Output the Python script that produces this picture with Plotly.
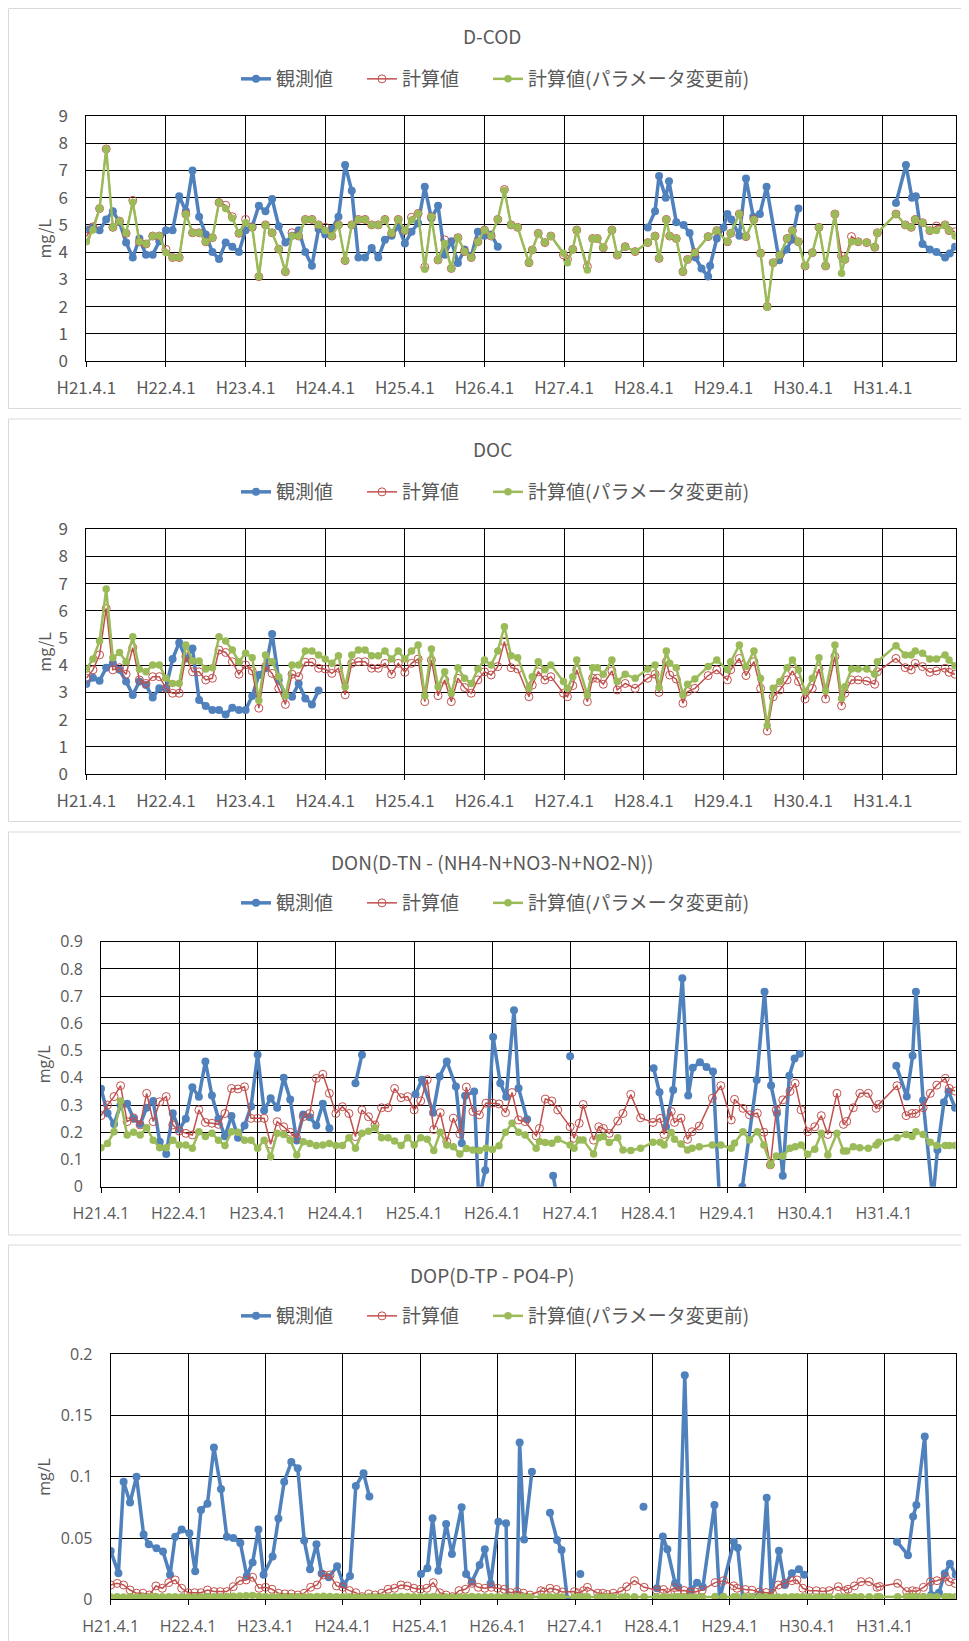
import plotly.graph_objects as go

# ---------------- data ----------------
tick_months = [0, 12, 24, 36, 48, 60, 72, 84, 96, 108, 120]
tick_labels = ["H21.4.1", "H22.4.1", "H23.4.1", "H24.4.1", "H25.4.1", "H26.4.1",
               "H27.4.1", "H28.4.1", "H29.4.1", "H30.4.1", "H31.4.1"]
series_names = ["観測値", "計算値", "計算値(パラメータ変更前)"]
panel_titles = ["D-COD", "DOC", "DON(D-TN - (NH4-N+NO3-N+NO2-N))", "DOP(D-TP - PO4-P)"]

# months elapsed since H21.4.1 of the model output dates
model_months = [0, 1, 2, 3, 4, 5, 6, 7, 8, 9, 10, 11, 12, 13, 14, 15, 16, 17, 18, 19,
                20, 21, 22, 23, 24, 25, 26, 27, 28, 29, 30, 31, 32, 33, 34, 35, 36, 37, 38, 39,
                40, 41, 42, 43, 44, 45, 46, 47, 48, 49, 50, 51, 52, 53, 54, 55, 56, 57, 58, 59,
                60, 61, 62, 63, 64, 65,
                66.7, 67.2, 68.1, 69.1, 70, 71.9, 72.5, 73.3, 73.9, 75.5,
                76.3, 77, 77.9, 79.2, 80, 81.2, 82.7, 84.6, 85.7, 86.3,
                87.4, 87.9, 88.9, 89.9, 90.6, 91.7, 93.7, 95, 96.6, 97.1,
                98.4, 99.4, 100.6, 101.6, 102.6, 103.5, 104.5, 105.6, 106.4, 107.3,
                108.3, 109.4, 110.4, 111.4, 112.8, 113.8, 114.3, 115.3, 116.3, 117.6,
                118.8, 119.2, 122, 123.4, 124.3, 124.9, 126, 127.1, 128.1, 129.4,
                130, 130.9]

# ---- D-COD ----
cod_obs_months = [0, 1, 2, 3, 4, 5, 6, 7, 8, 9, 10, 11, 12, 13, 14, 15, 16, 17, 18, 19,
                  20, 21, 22, 23, 24, 25, 26, 27, 28, 29, 30, 31, 32, 33, 34, 35, 36, 37, 38, 39,
                  40, 41, 42, 43, 44, 45, 46, 47, 48, 49, 50, 51, 52, 53, 54, 55, 56, 57, 58, 59,
                  60, 61, 62, None,
                  84.6, 85.7, 86.3, 87.3, 87.8, 88.9, 90, 90.9, 91.8, 92.7,
                  93.7, 94, 95, 96, 96.6, 97.2, 98.4, 99.4, 100.5, 101.5,
                  102.5, 104.4, 105.5, 106.3, 107.3, None,
                  122, 123.5, 124.4, 125, 126, 127.1, 128.1, 129.4, 130.1, 130.9]
cod_obs = [4.83, 4.9, 4.8, 5.2, 5.5, 5.1, 4.35, 3.8, 4.5, 3.9,
           3.9, 4.4, 4.8, 4.8, 6.05, 5.5, 7.0, 5.3, 4.65, 4.0,
           3.75, 4.35, 4.2, 4.0, 4.8, 4.95, 5.7, 5.5, 5.95, 4.95,
           4.35, 4.6, 4.8, 4.0, 3.5, 4.85, 4.65, 4.85, 5.3, 7.2,
           6.25, 3.8, 3.8, 4.15, 3.8, 4.45, 4.6, 4.95, 4.32, 4.75,
           5.06, 6.4, 5.24, 5.7, 3.9, 4.4, 3.6, 4.1, 3.85, 4.75,
           4.6, 4.65, 4.2, None,
           4.9, 5.5, 6.8, 6.0, 6.6, 5.1, 5.0, 4.7, 3.8, 3.4,
           3.1, 3.5, 4.5, 4.9, 5.4, 5.2, 4.6, 6.7, 5.3, 5.4,
           6.4, 3.7, 4.1, 4.45, 5.6, None,
           5.8, 7.2, 6.0, 6.05, 4.3, 4.1, 4.0, 3.8, 3.95, 4.2]
cod_calc = [4.57, 4.93, 5.6, 7.79, 4.91, 5.14, 4.69, 5.9, 4.38, 4.3,
            4.59, 4.59, 4.1, 3.8, 3.8, 5.4, 4.71, 4.71, 4.38, 4.53,
            5.82, 5.72, 5.3, 4.69, 5.2, 4.91, 3.1, 5.0, 4.71, 4.11,
            3.28, 4.71, 4.59, 5.2, 5.2, 5.0, 4.91, 4.59, 5.0, 3.69,
            5.0, 5.2, 5.2, 5.0, 5.0, 5.2, 4.69, 5.2, 4.79, 5.28,
            5.42, 3.45, 5.3, 3.71, 4.45, 3.4, 4.53, 4.02, 3.8, 4.38,
            4.81, 4.59, 5.2, 6.3, 5.0, 4.91,
            3.61, 4.08, 4.69, 4.35, 4.59, 3.9, 3.73, 4.1, 4.81, 3.47,
            4.5, 4.5, 4.16, 4.81, 3.89, 4.2, 4.02, 4.35, 4.59, 3.77,
            5.2, 4.59, 4.5, 3.28, 3.73, 3.98, 4.57, 4.79, 4.38, 4.69,
            5.4, 4.57, 5.2, 3.96, 2.0, 3.61, 3.89, 4.5, 4.79, 4.38,
            3.49, 3.98, 4.91, 3.49, 5.4, 3.86, 3.73, 4.57, 4.38, 4.35,
            4.18, 4.71, 5.4, 5.0, 4.91, 5.2, 5.08, 4.79, 4.96, 5.0,
            4.79, 4.75]
cod_calc_before = [4.38, 4.81, 5.6, 7.79, 4.91, 5.14, 4.69, 5.83, 4.38, 4.3,
                   4.59, 4.59, 3.98, 3.8, 3.8, 5.4, 4.71, 4.71, 4.38, 4.53,
                   5.82, 5.6, 5.24, 4.69, 5.08, 4.91, 3.1, 5.0, 4.71, 4.11,
                   3.28, 4.59, 4.59, 5.2, 5.2, 5.0, 4.79, 4.59, 5.0, 3.69,
                   5.0, 5.2, 5.2, 5.0, 5.0, 5.2, 4.69, 5.2, 4.79, 5.18,
                   5.42, 3.37, 5.3, 3.71, 4.32, 3.4, 4.53, 4.02, 3.8, 4.38,
                   4.81, 4.59, 5.2, 6.26, 5.0, 4.91,
                   3.61, 4.08, 4.69, 4.35, 4.59, 3.96, 3.61, 4.1, 4.81, 3.34,
                   4.5, 4.5, 4.16, 4.81, 3.89, 4.2, 4.02, 4.35, 4.59, 3.77,
                   5.2, 4.59, 4.5, 3.28, 3.73, 3.98, 4.57, 4.79, 4.38, 4.69,
                   5.4, 4.57, 5.2, 3.96, 1.97, 3.61, 3.89, 4.5, 4.79, 4.38,
                   3.49, 3.98, 4.91, 3.49, 5.4, 3.22, 3.73, 4.38, 4.38, 4.35,
                   4.18, 4.71, 5.4, 5.0, 4.91, 5.2, 5.08, 4.79, 4.79, 5.0,
                   4.79, 4.59]

# ---- DOC ----
doc_obs_months = [0, 1, 2, 3, 4, 5, 6, 7, 8, 9, 10, 11, 12, 13, 14, 15, 16, 17, 18, 19,
                  20, 21, 22, 23, 24, 25, 26, 27, 28, 29, 30, 31, 32, 33, 34, 35]
doc_obs = [3.31, 3.54, 3.43, 3.91, 4.07, 3.83, 3.4, 2.91, 3.4, 3.27,
           2.81, 3.15, 3.15, 4.23, 4.83, 4.25, 4.62, 2.72, 2.5, 2.35,
           2.35, 2.19, 2.44, 2.35, 2.35, 2.87, 3.64, 3.89, 5.15, 3.46,
           2.91, 2.84, 3.33, 2.78, 2.56, 3.07]
doc_calc = [3.52, 3.83, 4.38, 6.09, 3.83, 3.91, 3.67, 4.65, 3.46, 3.33,
            3.58, 3.58, 3.15, 2.97, 2.97, 4.32, 3.76, 3.76, 3.46, 3.52,
            4.56, 4.47, 4.13, 3.67, 4.01, 3.79, 2.42, 3.95, 3.70, 3.15,
            2.56, 3.67, 3.58, 4.11, 4.11, 3.89, 3.86, 3.70, 3.89, 2.91,
            4.07, 4.13, 4.13, 3.89, 3.89, 4.07, 3.67, 4.07, 3.74, 4.07,
            4.23, 2.66, 4.19, 2.88, 3.46, 2.66, 3.52, 3.18, 2.97, 3.46,
            3.76, 3.64, 3.95, 4.87, 3.91, 3.86,
            2.84, 3.27, 3.76, 3.46, 3.58, 2.97, 2.84, 3.25, 3.83, 2.66,
            3.52, 3.52, 3.30, 3.79, 3.09, 3.33, 3.15, 3.52, 3.67, 3.00,
            4.13, 3.64, 3.49, 2.60, 3.03, 3.15, 3.62, 3.83, 3.46, 3.83,
            4.25, 3.62, 4.13, 3.15, 1.58, 2.84, 3.09, 3.46, 3.79, 3.40,
            2.76, 3.15, 3.86, 2.76, 4.32, 2.51, 2.97, 3.46, 3.46, 3.42,
            3.30, 3.76, 4.25, 3.91, 3.83, 4.07, 3.95, 3.74, 3.79, 3.89,
            3.74, 3.67]
doc_calc_before = [3.85, 4.23, 4.89, 6.8, 4.28, 4.47, 4.13, 5.05, 3.85, 3.76,
                   4.01, 4.01, 3.52, 3.33, 3.33, 4.74, 4.16, 4.16, 3.86, 3.91,
                   5.05, 4.89, 4.56, 4.13, 4.44, 4.28, 2.70, 4.38, 4.13, 3.58,
                   2.88, 4.01, 4.01, 4.52, 4.52, 4.38, 4.23, 4.07, 4.35, 3.21,
                   4.38, 4.56, 4.56, 4.35, 4.35, 4.52, 4.23, 4.52, 4.23, 4.52,
                   4.74, 2.88, 4.6, 3.21, 3.76, 2.97, 3.91, 3.52, 3.33, 3.86,
                   4.19, 4.01, 4.52, 5.42, 4.35, 4.28,
                   3.15, 3.58, 4.13, 3.83, 4.01, 3.4, 3.15, 3.58, 4.19, 2.91,
                   3.91, 3.91, 3.67, 4.19, 3.40, 3.67, 3.52, 3.86, 4.01, 3.18,
                   4.52, 4.07, 3.91, 2.91, 3.30, 3.49, 3.95, 4.19, 3.83, 4.13,
                   4.74, 3.95, 4.52, 3.52, 1.78, 3.15, 3.40, 3.91, 4.19, 3.83,
                   3.03, 3.52, 4.28, 3.05, 4.74, 2.78, 3.21, 3.86, 3.86, 3.86,
                   3.67, 4.13, 4.72, 4.38, 4.38, 4.52, 4.44, 4.23, 4.23, 4.38,
                   4.19, 3.98]

# ---- DON ----
don_obs_months = [0, 1, 2, 3, 4, 5, 6, 7, 8, 9, 10, 11, 12, 13, 14, 15, 16, 17, 18, 19,
                  20, 21, 22, 23, 24, 25, 26, 27, 28, 29, 30, 31, 32, 33, 34, 35, None,
                  39, 40, None,
                  48.2, 49.2, 50.9, 51.9, 53, 54.4, 55.3, 55.8, 57.2, 57.9,
                  58.9, 60.1, 61.2, 62.1, 63.3, 64, 65.3, None,
                  69.3, 70, None, 71.9, None,
                  84.7, 85.6, 86.6, 87.7, 89.1, 90, 90.7, 91.8, 92.8, 93.8,
                  94.8, 98.3, 100.5, 101.7, 102.7, 103.6, 104.5, 105.5, 106.3, 107.1, None,
                  121.9, 123.5, 124.4, 124.9, 126, 127.5, 128.2, 129.2, 129.9, 130.9]
don_obs = [0.36, 0.27, 0.23, 0.30, 0.305, 0.25, 0.23, 0.29, 0.315, 0.165,
           0.12, 0.27, 0.21, 0.25, 0.365, 0.33, 0.46, 0.335, 0.25, 0.185,
           0.26, 0.18, 0.225, 0.295, 0.485, 0.28, 0.325, 0.29, 0.40, 0.32,
           0.17, 0.265, 0.255, 0.225, 0.305, 0.215, None,
           0.38, 0.485, None,
           0.34, 0.393, 0.272, 0.405, 0.46, 0.368, 0.16, 0.334, 0.35, -0.05,
           0.06, 0.55, 0.38, 0.33, 0.648, 0.362, 0.248, None,
           0.04, -0.05, None, 0.479, None,
           0.435, 0.347, 0.22, 0.355, 0.766, 0.335, 0.437, 0.457, 0.44, 0.423,
           -0.05, 0.0, 0.392, 0.716, 0.372, 0.27, 0.04, 0.408, 0.471, 0.488, None,
           0.444, 0.331, 0.481, 0.716, 0.318, -0.05, 0.135, 0.31, 0.35, 0.29]
don_calc = [0.261, 0.30, 0.331, 0.371, 0.239, 0.253, 0.227, 0.343, 0.239, 0.312,
            0.331, 0.227, 0.204, 0.196, 0.19, 0.282, 0.236, 0.233, 0.229, 0.269,
            0.361, 0.359, 0.367, 0.251, 0.251, 0.251, 0.156, 0.239, 0.22, 0.2,
            0.178, 0.257, 0.269, 0.398, 0.413, 0.343, 0.269, 0.294, 0.269, 0.184,
            0.282, 0.257, 0.227, 0.29, 0.29, 0.361, 0.327, 0.331, 0.282, 0.315,
            0.393, 0.21, 0.272, 0.166, 0.252, 0.194, 0.366, 0.276, 0.264, 0.307,
            0.307, 0.304, 0.272, 0.346, 0.245, 0.239,
            0.187, 0.214, 0.322, 0.315, 0.282, 0.22, 0.178, 0.233, 0.302, 0.171,
            0.22, 0.214, 0.196, 0.241, 0.269, 0.339, 0.253, 0.236, 0.251, 0.192,
            0.276, 0.236, 0.252, 0.174, 0.202, 0.223, 0.325, 0.371, 0.245, 0.321,
            0.288, 0.264, 0.27, 0.2, 0.08, 0.282, 0.319, 0.35, 0.38, 0.282,
            0.202, 0.22, 0.261, 0.192, 0.343, 0.229, 0.24, 0.29, 0.343, 0.343,
            0.288, 0.302, 0.371, 0.261, 0.269, 0.269, 0.29, 0.343, 0.373, 0.398,
            0.361, 0.351]
don_calc_before = [0.143, 0.159, 0.202, 0.315, 0.19, 0.2, 0.19, 0.217, 0.171, 0.143,
                   0.143, 0.171, 0.153, 0.153, 0.141, 0.202, 0.184, 0.196, 0.171, 0.151,
                   0.202, 0.2, 0.171, 0.171, 0.141, 0.171, 0.11, 0.196, 0.192, 0.171,
                   0.116, 0.165, 0.159, 0.151, 0.153, 0.159, 0.151, 0.151, 0.18, 0.141,
                   0.196, 0.204, 0.217, 0.18, 0.18, 0.168, 0.151, 0.18, 0.153, 0.18,
                   0.174, 0.133, 0.2, 0.153, 0.147, 0.12, 0.14, 0.135, 0.133, 0.141,
                   0.137, 0.15, 0.2, 0.233, 0.2, 0.19,
                   0.141, 0.166, 0.162, 0.16, 0.174, 0.153, 0.141, 0.172, 0.172, 0.12,
                   0.18, 0.184, 0.162, 0.18, 0.135, 0.133, 0.141, 0.163, 0.163, 0.153,
                   0.199, 0.174, 0.157, 0.135, 0.141, 0.147, 0.153, 0.153, 0.141, 0.16,
                   0.202, 0.172, 0.202, 0.153, 0.08, 0.113, 0.113, 0.141, 0.147, 0.153,
                   0.119, 0.138, 0.196, 0.116, 0.196, 0.131, 0.131, 0.147, 0.143, 0.141,
                   0.153, 0.163, 0.18, 0.192, 0.184, 0.202, 0.192, 0.163, 0.151, 0.151,
                   0.151, 0.151]

# ---- DOP ----
dop_obs_months = [0, 1.2, 2, 3, 4, 5.1, 5.9, 7.1, 8.1, 9.2,
                  10, 11, 12.2, 13.1, 14, 15, 16, 17.1, 18, 19,
                  20.1, 21.1, 22, 22.9, 23.7, 25.1, 26, 26.9, 28, 29,
                  30, 30.9, 31.9, 32.7, 33.8, 35.1, 36.1, 37.1, 38, 39.2,
                  40.1, None,
                  48.1, 49.1, 49.9, 50.8, 52, 52.9, 54.4, 55.1, 56, 57.2,
                  58, 58.9, 60.1, 61.3, 61.5, 63, 63.4, 64.1, 65.3, None,
                  68.1, 69.2, 69.9, 70.8, None, 72.8, None, 82.6, None,
                  84.7, 85.6, 86.3, 87.5, 88, 89, 89.9, 90.9, 91.8, 93.6,
                  94.4, 96.6, 97.2, 98, 100.7, 101.7, 102.4, 103.6, 104.5, 105.6,
                  106.7, 107.5, None,
                  121.9, 123.6, 124.4, 124.9, 126.2, 127.2, 128.4, 129.3, 130.1, 131]
dop_obs = [0.0395, 0.0212, 0.096, 0.079, 0.100, 0.053, 0.045, 0.0416, 0.039, 0.020,
           0.051, 0.057, 0.054, 0.023, 0.073, 0.078, 0.124, 0.09, 0.051, 0.050,
           0.046, 0.019, 0.030, 0.057, 0.020, 0.035, 0.066, 0.096, 0.112, 0.107,
           0.048, 0.0245, 0.045, 0.021, 0.018, 0.027, 0.012, 0.019, 0.0925, 0.103,
           0.084, None,
           0.0207, 0.0253, 0.0661, 0.0234, 0.0615, 0.037, 0.0751, 0.0207, 0.0144, 0.028,
           0.0408, 0.013, 0.0634, 0.062, 0.0, 0.0, 0.1279, 0.0489, 0.1042, None,
           0.0707, 0.0484, 0.0402, 0.0, None, 0.0207, None, 0.0756, None,
           0.009, 0.0512, 0.0408, 0.0131, 0.01, 0.183, 0.007, 0.0136, 0.01, 0.077,
           0.0, 0.047, 0.042, 0.0, 0.004, 0.083, 0.002, 0.0397, 0.0117, 0.0212,
           0.0245, 0.02, None,
           0.047, 0.036, 0.0675, 0.077, 0.133, 0.0035, 0.0054, 0.021, 0.029, 0.02]
dop_calc = [0.0117, 0.013, 0.0117, 0.0076, 0.005, 0.005, 0.0035, 0.0109, 0.009, 0.0136,
            0.0158, 0.009, 0.0054, 0.0054, 0.0054, 0.0076, 0.0063, 0.0063, 0.0063, 0.0103,
            0.0152, 0.0158, 0.018, 0.009, 0.0098, 0.0082, 0.005, 0.0044, 0.0044, 0.0035,
            0.005, 0.0098, 0.0117, 0.0199, 0.0199, 0.0109, 0.0098, 0.0071, 0.0054, 0.0022,
            0.0044, 0.0035, 0.005, 0.0082, 0.009, 0.0117, 0.0109, 0.009, 0.0082, 0.009,
            0.0136, 0.0054, 0.0035, 0.0022, 0.0071, 0.0082, 0.013, 0.0098, 0.009, 0.0098,
            0.009, 0.0082, 0.0054, 0.0063, 0.005, 0.0035,
            0.007, 0.006, 0.009, 0.008, 0.006, 0.0063, 0.005, 0.007, 0.0098, 0.005,
            0.005, 0.004, 0.005, 0.0065, 0.0103, 0.0152, 0.0098, 0.0075, 0.008, 0.0055,
            0.0095, 0.007, 0.0072, 0.006, 0.006, 0.0075, 0.0136, 0.0152, 0.011, 0.009,
            0.008, 0.0075, 0.006, 0.0055, 0.005, 0.0117, 0.013, 0.0152, 0.0158, 0.009,
            0.007, 0.007, 0.0063, 0.007, 0.0103, 0.007, 0.0082, 0.0109, 0.0144, 0.0144,
            0.0098, 0.0105, 0.013, 0.0063, 0.007, 0.0063, 0.0098, 0.0144, 0.0152, 0.018,
            0.0144, 0.013]
dop_calc_before = [0.0018, 0.002, 0.0019, 0.002, 0.002, 0.0021, 0.002, 0.0022, 0.0021, 0.002,
                   0.0021, 0.002, 0.0019, 0.0019, 0.002, 0.0021, 0.002, 0.0021, 0.0022, 0.0024,
                   0.0026, 0.0028, 0.0032, 0.0025, 0.0022, 0.0021, 0.002, 0.0019, 0.0019, 0.002,
                   0.002, 0.0021, 0.0022, 0.0024, 0.0023, 0.0021, 0.002, 0.0019, 0.0018, 0.0017,
                   0.0018, 0.0018, 0.0019, 0.002, 0.0021, 0.0022, 0.0022, 0.0021, 0.002, 0.0021,
                   0.0022, 0.0019, 0.0018, 0.0017, 0.0019, 0.002, 0.0022, 0.0021, 0.002, 0.0021,
                   0.002, 0.002, 0.0019, 0.0021, 0.002, 0.0019,
                   0.0018, 0.0019, 0.002, 0.002, 0.0019, 0.0018, 0.0018, 0.0019, 0.002, 0.0018,
                   0.0019, 0.0019, 0.0018, 0.0019, 0.002, 0.0021, 0.002, 0.002, 0.0021, 0.0019,
                   0.0021, 0.002, 0.002, 0.0019, 0.0019, 0.002, 0.0022, 0.0022, 0.002, 0.0021,
                   0.0022, 0.002, 0.0021, 0.002, 0.0017, 0.0018, 0.0019, 0.002, 0.0021, 0.002,
                   0.0019, 0.0019, 0.0021, 0.0018, 0.0021, 0.0019, 0.0019, 0.002, 0.002, 0.002,
                   0.002, 0.0021, 0.0021, 0.0022, 0.0022, 0.0023, 0.0022, 0.0021, 0.002, 0.002,
                   0.002, 0.002]

# ---------------- layout helpers ----------------
W, H = 969, 1641
OFF = 8  # the page body adds an 8px margin around the figure
FONT_JP = "Noto Sans CJK JP"
TXT = "#595959"
C_OBS, C_CALC, C_BEFORE = "#4F81BD", "#C0504D", "#9BBB59"


def fx(px):
    return (px - OFF) / W


def fy(py):
    return 1 - (py - OFF) / H


panels = [
    dict(obs_x=cod_obs_months, obs=cod_obs, calc=cod_calc, before=cod_calc_before,
         yrange=[0, 9], dtick=1, plot=(86.3, 116, 955.7, 361), box=(8.5, 8.5, 990, 408.5),
         title_y=35, legend_y=79, tickfont=FONT_JP, ticksize=17),
    dict(obs_x=doc_obs_months, obs=doc_obs, calc=doc_calc, before=doc_calc_before,
         yrange=[0, 9], dtick=1, plot=(86.3, 529.3, 955.7, 774), box=(8.5, 419, 990, 821.5),
         title_y=448, legend_y=492, tickfont=FONT_JP, ticksize=17),
    dict(obs_x=don_obs_months, obs=don_obs, calc=don_calc, before=don_calc_before,
         yrange=[0, 0.9], dtick=0.1, plot=(101, 941.7, 955.7, 1186.7), box=(8.5, 832, 990, 1235),
         title_y=861, legend_y=903, tickfont="Open Sans", ticksize=16),
    dict(obs_x=dop_obs_months, obs=dop_obs, calc=dop_calc, before=dop_calc_before,
         yrange=[0, 0.2], dtick=0.05, plot=(110.7, 1354.3, 955.7, 1599.3), box=(8.5, 1245, 990, 1680),
         title_y=1274.5, legend_y=1316, tickfont="Open Sans", ticksize=16),
]

fig = go.Figure()
layout = dict(width=W, height=H, template="none",
              margin=dict(l=0, r=0, t=0, b=0, pad=0, autoexpand=False),
              paper_bgcolor="white", plot_bgcolor="white", showlegend=True,
              font=dict(family=FONT_JP, color=TXT))
shapes, annotations = [], []

for k, p in enumerate(panels):
    n = "" if k == 0 else str(k + 1)
    xa, ya = "x" + n, "y" + n
    leg = "legend" + n
    x0, y0, x1, y1 = p["plot"]

    fig.add_trace(go.Scatter(
        x=p["obs_x"], y=p["obs"], name=series_names[0], mode="lines+markers",
        line=dict(color=C_OBS, width=3.5), marker=dict(color=C_OBS, size=8),
        xaxis=xa, yaxis=ya, legend=leg, legendwidth=81, connectgaps=False))
    fig.add_trace(go.Scatter(
        x=model_months, y=p["calc"], name=series_names[1], mode="lines+markers",
        line=dict(color=C_CALC, width=1.5),
        marker=dict(color=C_CALC, size=8, symbol="circle-open", line=dict(width=1)),
        xaxis=xa, yaxis=ya, legend=leg, legendwidth=81))
    fig.add_trace(go.Scatter(
        x=model_months, y=p["before"], name=series_names[2], mode="lines+markers",
        line=dict(color=C_BEFORE, width=2.5), marker=dict(color=C_BEFORE, size=7.5),
        xaxis=xa, yaxis=ya, legend=leg))

    layout["xaxis" + n] = dict(
        domain=[fx(x0), fx(x1)], anchor=ya, range=[0, 131], automargin=False,
        tickmode="array", tickvals=tick_months, ticktext=tick_labels,
        showgrid=True, gridcolor="#000000", gridwidth=1,
        showline=True, linecolor="#000000", linewidth=1, mirror=True,
        ticks="outside", ticklen=5, tickcolor="#000000", zeroline=False,
        ticklabelstandoff=7,
        tickfont=dict(family=p["tickfont"], size=p["ticksize"], color=TXT))
    layout["yaxis" + n] = dict(
        domain=[fy(y1), fy(y0)], anchor=xa, range=p["yrange"], dtick=p["dtick"],
        tick0=0, showgrid=True, gridcolor="#000000", gridwidth=1, automargin=False,
        showline=True, linecolor="#000000", linewidth=1, mirror=True,
        zeroline=False, ticks="", ticklabelstandoff=14,
        tickfont=dict(family=p["tickfont"], size=p["ticksize"], color=TXT))
    layout[leg] = dict(
        orientation="h", x=fx(236), xanchor="left", y=fy(p["legend_y"]), yanchor="middle",
        font=dict(family=FONT_JP, size=19, color=TXT), bgcolor="rgba(0,0,0,0)",
        itemwidth=30, traceorder="normal")

    bx0, by0, bx1, by1 = p["box"]
    shapes.append(dict(type="rect", xref="paper", yref="paper",
                       x0=fx(bx0), x1=fx(bx1), y0=fy(by1), y1=fy(by0),
                       line=dict(color="#D9D9D9", width=1), layer="below"))
    annotations.append(dict(text=panel_titles[k], xref="paper", yref="paper",
                            x=fx(492), y=fy(p["title_y"]), xanchor="center", yanchor="middle",
                            showarrow=False, font=dict(family=FONT_JP, size=19, color=TXT)))
    annotations.append(dict(text="mg/L", xref="paper", yref="paper", textangle=-90,
                            x=fx(44), y=fy((y0 + y1) / 2), xanchor="center", yanchor="middle",
                            showarrow=False, font=dict(family=p["tickfont"], size=16, color=TXT)))

layout["shapes"] = shapes
layout["annotations"] = annotations
fig.update_layout(**layout)
fig.write_html("out.html")
